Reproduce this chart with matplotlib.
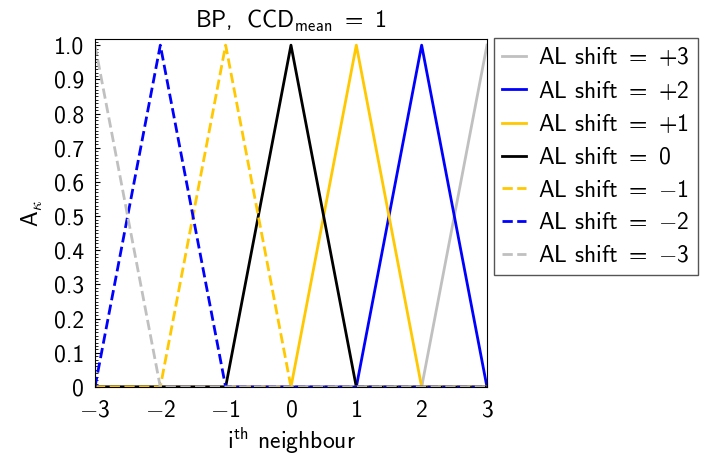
import numpy as np
import matplotlib.pyplot as plt
from matplotlib.ticker import MultipleLocator

plt.rcParams['font.family'] = 'cmss10'
plt.rcParams['mathtext.fontset'] = 'custom'
plt.rcParams['mathtext.rm'] = 'cmss10'
plt.rcParams['mathtext.it'] = 'cmss10'
plt.rcParams['mathtext.sf'] = 'cmss10'
plt.rcParams['mathtext.fallback'] = 'cm'
plt.rcParams['axes.unicode_minus'] = False

# neighbour positions and AL shifts
neighbours = [-3, -2, -1, 0, 1, 2, 3]
shifts = [3, 2, 1, 0, -1, -2, -3]
shift_labels = ['+3', '+2', '+1', '0', '-1', '-2', '-3']
colors = ['#c0c0c0', '#0000ff', '#ffc800', '#000000', '#ffc800', '#0000ff', '#c0c0c0']
styles = ['-', '-', '-', '-', '--', '--', '--']

# A_kappa values per shift (peak at the shifted neighbour)
A_vals = {
    3:  [0, 0, 0, 0, 0, 0, 1],
    2:  [0, 0, 0, 0, 0, 1, 0],
    1:  [0, 0, 0, 0, 1, 0, 0],
    0:  [0, 0, 0, 1, 0, 0, 0],
    -1: [0, 0, 1, 0, 0, 0, 0],
    -2: [0, 1, 0, 0, 0, 0, 0],
    -3: [1, 0, 0, 0, 0, 0, 0],
}

fs = 17

fig = plt.figure(figsize=(7.13, 4.61), dpi=100)
ax = fig.add_axes([0.1332, 0.1605, 0.5498, 0.7549])

for s, lbl, c, ls in zip(shifts, shift_labels, colors, styles):
    ax.plot(neighbours, A_vals[s], color=c, ls=ls, lw=2,
            label=r'AL shift $=$ $%s$' % lbl)

ax.set_xlim(-3, 3)
ax.set_ylim(0, 1.018)
ax.set_xticks(neighbours)
ax.set_xticklabels([r'$%d$' % n for n in neighbours])
yt = np.round(np.arange(0, 1.01, 0.1), 1)
ax.set_yticks(yt)
ax.set_yticklabels(['0'] + ['%.1f' % v for v in yt[1:]])
ax.yaxis.set_minor_locator(MultipleLocator(0.01))
ax.tick_params(which='both', direction='in', labelsize=fs)
ax.tick_params(which='minor', length=2)
ax.tick_params(axis='x', pad=9)
ax.tick_params(axis='y', pad=8)

ax.set_xlabel(r'i$^{\mathrm{th}}$ neighbour', fontsize=fs, labelpad=3)
ax.set_ylabel(r'A$_\kappa$', fontsize=fs, labelpad=6)
ax.set_title(r'BP, $\ $CCD$_{\mathrm{mean}}$ $=$ $1$', fontsize=fs, pad=8)

ax.legend(loc='upper left', bbox_to_anchor=(0.693, 0.918),
          bbox_transform=fig.transFigure, fontsize=fs, handlelength=1.0,
          handletextpad=0.5, fancybox=False, edgecolor='#555555',
          framealpha=1, borderaxespad=0, labelspacing=0.45, borderpad=0.35)

fig.savefig('out.png', dpi=100)
